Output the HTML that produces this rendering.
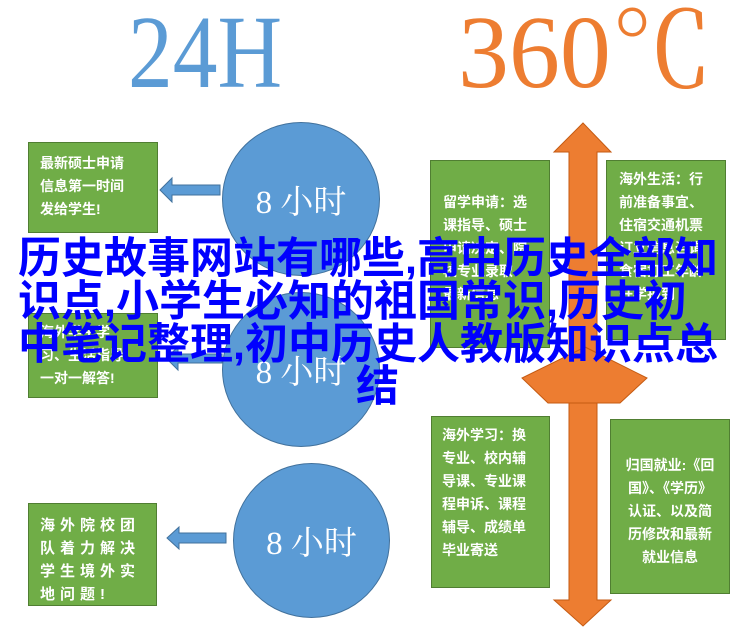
<!DOCTYPE html>
<html><head><meta charset="utf-8"><style>
body{margin:0;width:753px;height:630px;background:#fff;position:relative;overflow:hidden;font-family:"Liberation Sans","Noto Sans CJK SC",sans-serif}
.t{position:absolute;font-family:"Liberation Serif","Noto Serif CJK SC",serif;font-size:104px;line-height:100px;transform-origin:0 0}
.box{position:absolute;background:#70ad47;border:1.5px solid #507e32;box-sizing:border-box;color:#fff;font-weight:bold;font-size:14px;line-height:23px}
.c{position:absolute;background:#5b9bd5;border:1px solid #41719c;border-radius:50%;box-sizing:border-box;color:#fff;font-family:"Liberation Serif","Noto Serif CJK SC",serif;font-size:33px;display:flex;align-items:center;justify-content:center}
.ov{position:absolute;color:#0000ff;font-size:43px;line-height:44px;white-space:nowrap;font-weight:bold;letter-spacing:0px}
</style></head><body>
<div class="t" style="left:128px;top:3px;color:#5b9bd5;transform:scaleX(0.86)">24H</div>
<div class="t" style="left:458px;top:3px;color:#ed7d31;transform:scaleX(0.98)">360℃</div>

<svg style="position:absolute;left:0;top:0" width="753" height="630">
<g fill="#5b9bd5" stroke="#41719c" stroke-width="1">
<polygon points="160,190 172,178 172,185 220,185 220,195 172,195 172,202"/>
<polygon points="166,358 178,347 178,354 222,354 222,363 178,363 178,370"/>
<polygon points="167,538 179,527 179,533 226,533 226,543 179,543 179,549"/>
</g>
<g fill="#ed7d31" stroke="#c55a11" stroke-width="1">
<polygon points="583,123 611,152 597,152 597,600 611,600 583,626 554,600 569,600 569,152 554,152"/>
<polygon points="585,347 647,378 620,403 548,403 522,378"/>
</g>
</svg>

<div class="c" style="left:222px;top:122px;width:158px;height:154px">8 小时</div>
<div class="c" style="left:222px;top:292px;width:158px;height:155px">8 小时</div>
<div class="c" style="left:233px;top:463px;width:157px;height:155px">8 小时</div>

<div class="box" style="left:28px;top:142px;width:130px;height:91px;padding:9px 0 0 11px">最新硕士申请<br>信息第一时间<br>发给学生!</div>
<div class="box" style="left:28px;top:313px;width:130px;height:85px;padding:7px 0 0 11px">海外学生学<br>习、生活指导<br>一对一解答!</div>
<div class="box" style="left:28px;top:503px;width:129px;height:103px;padding:10px 0 0 11px;font-size:15px;letter-spacing:5px">海外院校团<br>队着力解决<br>学生境外实<br>地问题!</div>

<div class="box" style="left:430px;top:160px;width:120px;height:188px;padding:30px 0 0 12px">留学申请：选<br>课指导、硕士<br>申请决定、院<br>校专业录取<br>最新信息</div>
<div class="box" style="left:606px;top:160px;width:120px;height:180px;padding:7px 0 0 12px">海外生活：行<br>前准备事宜、<br>住宿交通机票<br>订立信息咨询<br>食宿打工年龄<br>开学报到</div>
<div class="box" style="left:431px;top:416px;width:119px;height:172px;padding:7px 0 0 10px">海外学习：换<br>专业、校内辅<br>导课、专业课<br>程申诉、课程<br>辅导、成绩单<br>毕业寄送</div>
<div class="box" style="left:610px;top:419px;width:120px;height:175px;padding:34px 0 0 0;text-align:center">归国就业:《回<br>国》、《学历》<br>认证、以及简<br>历修改和最新<br>就业信息</div>

<div class="ov" style="left:18px;top:237px">历史故事网站有哪些,高中历史全部知</div>
<div class="ov" style="left:18px;top:280px">识点,小学生必知的祖国常识,历史初</div>
<div class="ov" style="left:18px;top:323px">中笔记整理,初中历史人教版知识点总</div>
<div class="ov" style="left:356px;top:365px">结</div>
</body></html>
